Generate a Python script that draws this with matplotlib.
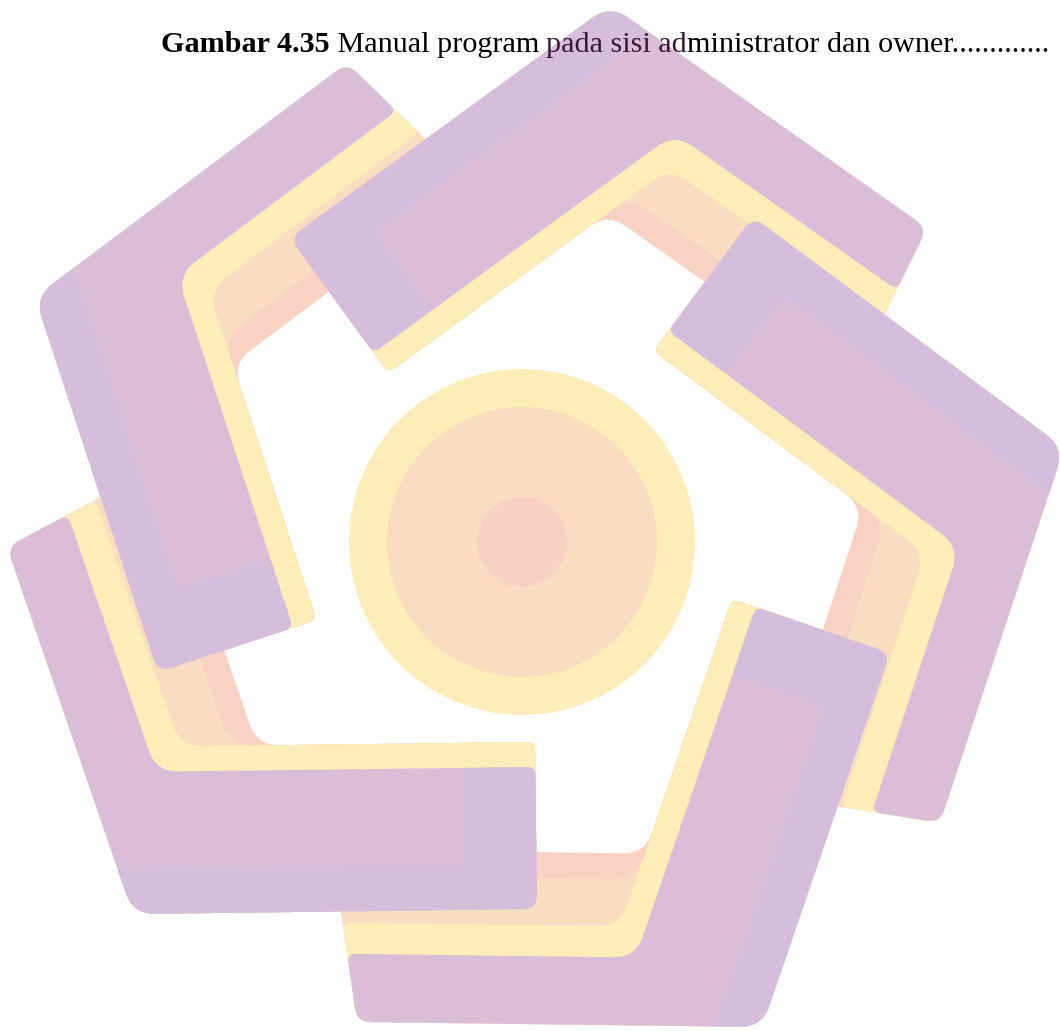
import numpy as np
import matplotlib
matplotlib.use("Agg")
import matplotlib.pyplot as plt
from matplotlib.path import Path
from matplotlib.patches import PathPatch, Circle, Polygon

# five L shaped pieces: outer corner, end of outer arm, end of inner arm (px)
corners = [(133, 914), (35, 297), (610, 5), (1064, 448), (762, 1027)]
outer_ends = [(7, 547), (347, 63), (927, 228), (940, 823), (357, 1022)]
inner_ends = [(537, 909), (158, 672), (290, 238), (753, 217), (890, 653)]
logo_center = (525, 543)

# stripes, back to front: depth in the outer arm / inner arm
outer_depths = [172, 146, 99, 68]
inner_depths = [167, 167, 167, 142]
stripe_colors = ["#F9D2C4", "#FADDC0", "#FCEDB9", "#DABED8"]
lilac = "#D5BEDB"
lilac_strip = 45
lilac_end = 72
cap_tilt = 9

circle_center = (522, 542)
circle_radii = [173, 135, 45]
circle_colors = ["#FCEDB9", "#FADDC0", "#F9D0C4"]

# caption pieces: text, bold, colour (letters under the watermark look tinted)
title_parts = ["Gambar 4.35", " Manual program ", "pada sisi ad", "ministrator dan owner............."]
title_bold = [True, False, False, False]
title_colors = ["black", "black", "#3a1838", "black"]


def unit(v):
    v = np.asarray(v, float)
    return v / np.hypot(v[0], v[1])


def arm(c, e):
    u = unit(np.subtract(e, c))
    n = np.array([-u[1], u[0]])
    if np.dot(n, np.subtract(logo_center, c)) < 0:
        n = -n
    return u, n, np.hypot(*np.subtract(e, c))


def intersect(p, u, q, v):
    s, t = np.linalg.solve(np.array([u, -v]).T, np.subtract(q, p))
    return np.asarray(p) + s * u


def rounded(pts, radii):
    pts = [np.asarray(p, float) for p in pts]
    verts, codes = [], []
    n = len(pts)
    for i in range(n):
        p0, p1, p2 = pts[i - 1], pts[i], pts[(i + 1) % n]
        ra = min(radii[i], 0.45 * np.hypot(*(p0 - p1)))
        rb = min(radii[i], 0.45 * np.hypot(*(p2 - p1)))
        s = p1 + unit(p0 - p1) * ra
        e = p1 + unit(p2 - p1) * rb
        verts.append(s)
        codes.append(Path.MOVETO if i == 0 else Path.LINETO)
        verts += [p1, e]
        codes += [Path.CURVE3, Path.CURVE3]
    verts.append(verts[0])
    codes.append(Path.CLOSEPOLY)
    return Path(verts, codes)


def chevron(c, eo, ei, do, di):
    c = np.asarray(c, float)
    uo, no, Lo = arm(c, eo)
    ui, ni, Li = arm(c, ei)
    tilt = np.tan(np.radians(cap_tilt))
    p1 = c + Lo * uo
    p2 = c + Li * ui
    p3 = p2 + di * ni
    p4 = intersect(c + do * no, uo, c + di * ni, ui)
    p5 = p1 + do * no + do * tilt * uo
    return [p1, c, p2, p3, p4, p5]


fig = plt.figure(figsize=(10.6, 10.31), dpi=100)
ax = fig.add_axes([0, 0, 1, 1])
ax.set_xlim(0, 1060)
ax.set_ylim(1031, 0)
ax.axis("off")

# caption, pieces placed one after another
fs = 21.7
x = 161
renderer = fig.canvas.get_renderer()
for txt, bold, col in zip(title_parts, title_bold, title_colors):
    t = ax.text(x, 52, txt, fontfamily="Liberation Serif",
                fontweight="bold" if bold else "normal",
                fontsize=fs, va="baseline", color=col, zorder=6)
    bb = t.get_window_extent(renderer)
    x = ax.transData.inverted().transform((bb.x1, bb.y0))[0]

# centre circles
for r, col in zip(circle_radii, circle_colors):
    ax.add_patch(Circle(circle_center, r, color=col, lw=0, zorder=2))

radii = [14, 22, 14, 8, 22, 8]

# pass 1: whole pieces
for c, eo, ei in zip(corners, outer_ends, inner_ends):
    for do, di, col in zip(outer_depths, inner_depths, stripe_colors):
        ax.add_patch(PathPatch(rounded(chevron(c, eo, ei, do, di), radii),
                               fc=col, lw=0, zorder=3))

# pass 2: inner halves again, so each inner arm lies over the previous outer arm
big = 3000
for c, eo, ei in zip(corners, outer_ends, inner_ends):
    c = np.asarray(c, float)
    inner = chevron(c, eo, ei, outer_depths[0], inner_depths[0])[4]
    b = unit(inner - c)
    s = np.array([-b[1], b[0]])
    uo, no, Lo = arm(c, eo)
    if np.dot(s, uo) < 0:
        s = -s
    nl = len(stripe_colors)
    for i, (do, di, col) in enumerate(zip(outer_depths, inner_depths, stripe_colors)):
        c2 = c - 2.0 * (nl - 1 - i) * s
        clip = Polygon([c2 - big * b, c2 + big * b, c2 + big * b - big * s,
                        c2 - big * b - big * s], transform=ax.transData)
        p = PathPatch(rounded(chevron(c, eo, ei, do, di), radii), fc=col, lw=0, zorder=4)
        ax.add_patch(p)
        p.set_clip_path(clip)
    ui, ni, Li = arm(c, ei)
    p2 = c + Li * ui
    e0 = c + (Li - lilac_end) * ui
    q = intersect(c + lilac_strip * ni, ui, c, uo)
    wd = inner_depths[-1]
    lil = [q, c, p2, p2 + wd * ni, e0 + wd * ni, e0 + lilac_strip * ni]
    ax.add_patch(PathPatch(rounded(lil, [2, 22, 14, 8, 6, 10]), fc=lilac, lw=0, zorder=4))

fig.savefig("out.png", dpi=100)
